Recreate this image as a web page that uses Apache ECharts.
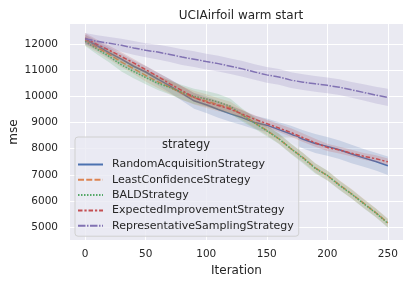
<!DOCTYPE html>
<html><head><meta charset="utf-8">
<script src="https://cdn.jsdelivr.net/npm/echarts@6/dist/echarts.min.js"></script>
<style>html,body{margin:0;padding:0;background:#fff}#c{width:410px;height:284px}</style>
</head><body><div id="c"></div>
<script>
const iterations = [0,10,20,30,40,50,60,70,80,90,100,110,120,130,140,150,160,170,180,190,200,210,220,230,240,250];
const strategies = ['RandomAcquisitionStrategy','LeastConfidenceStrategy','BALDStrategy','ExpectedImprovementStrategy','RepresentativeSamplingStrategy'];
const randomMean = [12180,11930,11660,11420,11150,10930,10660,10400,10110,9830,9680,9500,9330,9180,9000,8900,8730,8560,8360,8200,8090,7960,7800,7650,7510,7350];
const leastConfMean = [12150,11870,11600,11310,11060,10800,10560,10350,10130,9950,9820,9680,9560,9290,8990,8700,8380,8000,7660,7270,6980,6620,6280,5920,5560,5170];
const baldMean = [12100,11800,11520,11200,10950,10720,10500,10340,10150,10000,9900,9780,9620,9280,8980,8680,8380,8000,7640,7250,6980,6600,6270,5900,5550,5150];
const eiMean = [12220,11980,11760,11520,11280,11020,10760,10480,10220,9960,9780,9650,9510,9320,9130,8960,8790,8620,8420,8230,8050,7950,7830,7710,7620,7500];
const reprMean = [12200,12100,12030,11950,11850,11760,11690,11600,11500,11420,11330,11250,11150,11050,10930,10820,10740,10620,10540,10480,10420,10350,10250,10150,10050,9960];
const randomCI = [180,190,200,210,220,230,240,260,280,300,320,320,300,280,260,250,280,320,350,360,360,350,350,340,340,350];
const leastConfCI = [200,190,190,200,210,230,240,250,260,260,260,250,230,200,190,180,180,180,180,180,180,180,180,170,170,170];
const baldCI = [180,200,230,250,260,260,260,270,280,290,300,310,290,250,220,200,200,200,200,200,190,180,170,170,170,170];
const eiCI = [200,180,170,160,150,150,150,160,170,170,170,160,150,150,150,150,150,160,160,150,140,130,130,130,130,130];
const reprCI = [220,230,240,250,260,270,280,290,300,300,300,300,300,300,300,300,300,300,300,300,300,300,300,310,320,330];
const xTicks = [0,50,100,150,200,250];
const yTicks = [5000,6000,7000,8000,9000,10000,11000,12000];

const means = [randomMean, leastConfMean, baldMean, eiMean, reprMean];
const cis = [randomCI, leastConfCI, baldCI, eiCI, reprCI];
const colors = ['#4c72b0','#dd8452','#55a868','#c44e52','#8172b3'];
const dashes = ['solid',[6,2.25],[1.5,1.5],[4.5,1.9,2.25,1.9],[7.5,1.5,1.5,1.5]];

const series = [];
strategies.forEach((name, i) => {
  const m = means[i], c = cis[i];
  const bandData = iterations.map((x,k)=>[x, m[k]-c[k], m[k]+c[k]]);
  series.push({
    type:'custom', silent:true, z: 2+i*2,
    data: bandData,
    encode:{x:0, y:[1,2]},
    renderItem: function(params, api){
      if (params.dataIndex !== 0) return null;
      const upper = bandData.map(d => api.coord([d[0], d[2]]));
      const lower = bandData.map(d => api.coord([d[0], d[1]])).reverse();
      return {type:'polygon', shape:{points: upper.concat(lower)},
        style:{fill:colors[i], opacity:0.2}};
    }
  });
  series.push({
    type:'line', name:name, symbol:'none', z: 3+i*2,
    lineStyle:{color:colors[i], width:1.5, type:dashes[i]},
    itemStyle:{color:colors[i]},
    data: iterations.map((x,k)=>[x, m[k]])
  });
});

const chart = echarts.init(document.getElementById('c'));
const txt = '#262626';
chart.setOption({
  animation:false,
  backgroundColor:'#ffffff',
  title:{text:'UCIAirfoil warm start', left:236, top:5, textAlign:'center',
    textStyle:{fontFamily:'DejaVu Sans', fontSize:12, fontWeight:'normal', color:txt}},
  grid:{left:70, right:7, top:24, bottom:44, show:true, backgroundColor:'#eaeaf2', borderWidth:0, outerBoundsMode:'none', containLabel:false},
  xAxis:{type:'value', min:-12.5, max:262.5,
    name:'Iteration', nameLocation:'middle', nameGap:25, nameMoveOverlap:false,
    nameTextStyle:{fontFamily:'DejaVu Sans', fontSize:12, color:txt},
    axisLine:{show:false},
    axisTick:{show:false, customValues:xTicks},
    axisLabel:{customValues:xTicks, formatter:v=>String(v), fontFamily:'DejaVu Sans', fontSize:10.5, color:txt, margin:9},
    splitLine:{show:true, lineStyle:{color:'#ffffff', width:1}}},
  yAxis:{type:'value', min:4515, max:12763,
    name:'mse', nameLocation:'middle', nameGap:50, nameMoveOverlap:false,
    nameTextStyle:{fontFamily:'DejaVu Sans', fontSize:12, color:txt},
    axisLine:{show:false},
    axisTick:{show:false, customValues:yTicks},
    axisLabel:{customValues:yTicks, formatter:v=>String(v), fontFamily:'DejaVu Sans', fontSize:10.5, color:txt, margin:12},
    splitLine:{show:true, lineStyle:{color:'#ffffff', width:1}}},
  legend:{data:strategies, orient:'vertical', left:75, top:137,
    padding:[22,5,5,2], itemWidth:25, itemHeight:10, itemGap:4.3,
    itemStyle:{opacity:0},
    backgroundColor:'rgba(234,234,242,0.8)', borderColor:'#d0d0d0', borderWidth:1, borderRadius:3,
    textStyle:{fontFamily:'DejaVu Sans', fontSize:11, color:txt, padding:[0,0,0,4]}},
  graphic:[{type:'text', x:186, y:145.5, z:100,
    style:{text:'strategy', fontFamily:'DejaVu Sans', fontSize:11.5, fill:txt, textAlign:'center', textVerticalAlign:'middle'}}],
  series:series
});
</script></body></html>
